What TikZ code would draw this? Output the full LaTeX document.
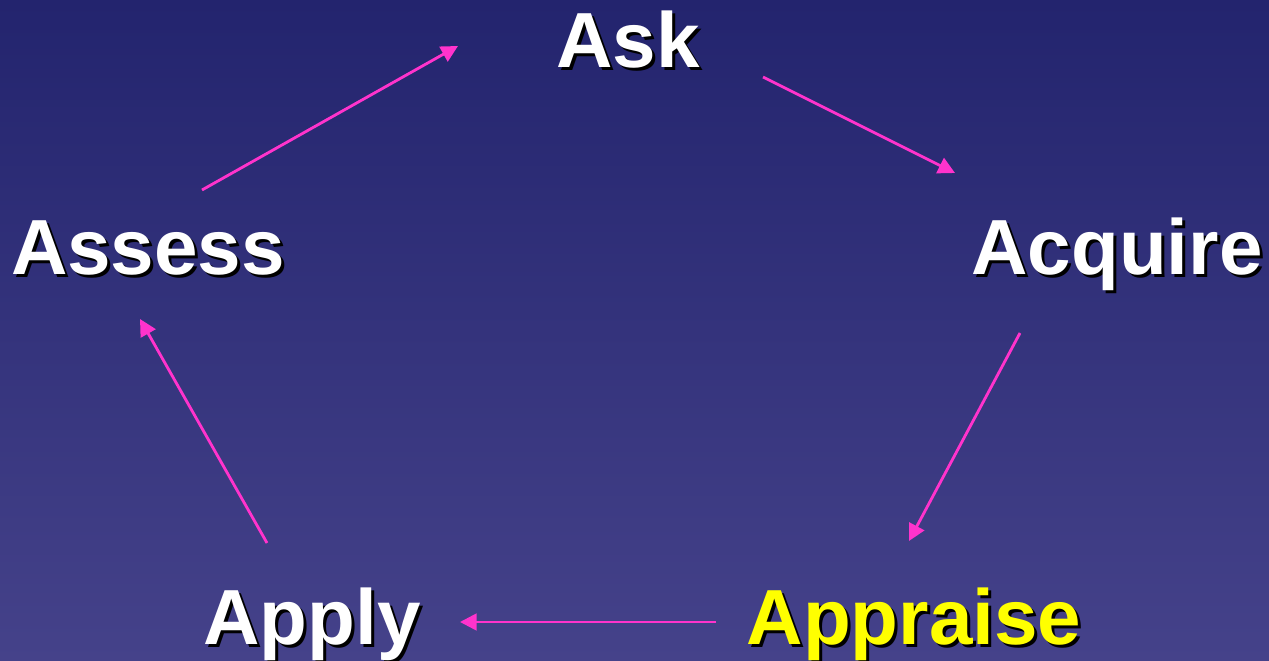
\documentclass[tikz,border=0pt]{standalone}
\usepackage{fontspec}
\setmainfont{Liberation Sans}
\usetikzlibrary{arrows.meta}
\definecolor{bgtop}{RGB}{35,36,110}
\definecolor{bgbot}{RGB}{69,66,138}
\definecolor{arr}{RGB}{255,51,204}
\definecolor{hl}{RGB}{255,255,0}
\begin{document}
\begin{tikzpicture}[x=0.02cm,y=0.02cm,
  lbl/.style={anchor=base,inner sep=0pt,font=\fontsize{44.5}{50}\selectfont\bfseries,text=white},
  shd/.style={lbl,text=black},
  link/.style={draw=arr,line width=1.6pt,-{Triangle[length=9.5pt,width=9.5pt]}}]
\shade[top color=bgtop,bottom color=bgbot] (0,0) rectangle (1269,-661);
\useasboundingbox (0,0) rectangle (1269,-661);
% shadows
\node[shd] (askS) at (631,-71) {Ask};
\node[shd] (acqS) at (1120,-278) {Acquire};
\node[shd] (assS) at (151,-278) {Assess};
\node[shd] (aplS) at (315,-648) {Apply};
\node[shd] (aprS) at (917,-648) {Appraise};
% labels
\node[lbl] (ask) at (628,-68) {Ask};
\node[lbl] (acq) at (1117,-275) {Acquire};
\node[lbl] (ass) at (148,-275) {Assess};
\node[lbl] (apl) at (312,-645) {Apply};
\node[lbl,text=hl] (apr) at (914,-645) {Appraise};
% arrow ends
\coordinate (e1s) at (202,-190); \coordinate (e1e) at (458,-46);
\coordinate (e2s) at (763,-77);  \coordinate (e2e) at (955,-173);
\coordinate (e3s) at (1020,-333); \coordinate (e3e) at (909,-541);
\coordinate (e4s) at (716,-622); \coordinate (e4e) at (460,-622);
\coordinate (e5s) at (267,-543); \coordinate (e5e) at (140,-319);
\draw[link] (e1s) -- (e1e);
\draw[link] (e2s) -- (e2e);
\draw[link] (e3s) -- (e3e);
\draw[link] (e4s) -- (e4e);
\draw[link] (e5s) -- (e5e);
\end{tikzpicture}
\end{document}
